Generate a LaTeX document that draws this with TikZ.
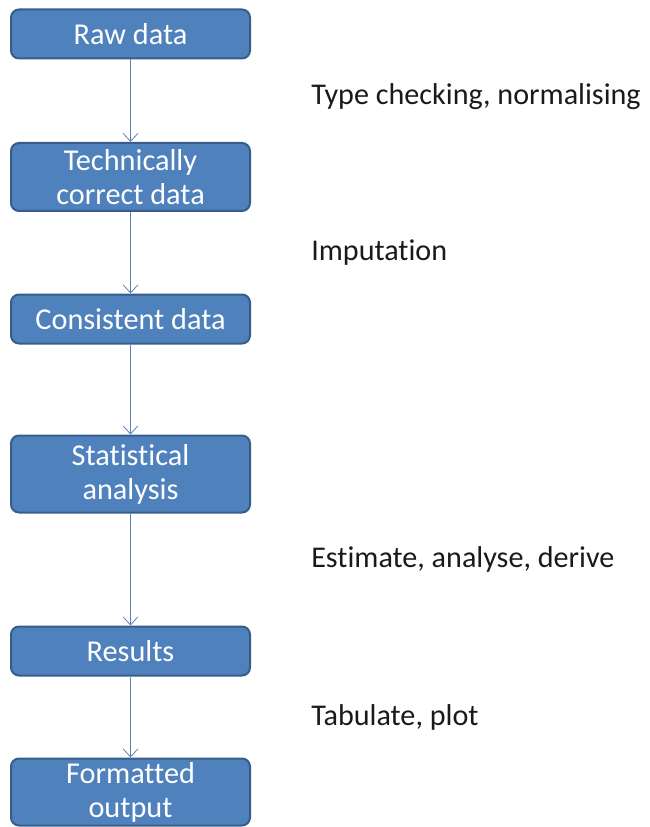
\documentclass[tikz,border=0pt]{standalone}
\usepackage{fontspec}
\setmainfont[Ligatures=NoCommon]{Carlito}
\usetikzlibrary{arrows.meta}
\definecolor{boxfill}{HTML}{4F81BD}
\definecolor{boxline}{HTML}{385D8A}
\definecolor{arrowc}{HTML}{5A82B5}
\definecolor{labelc}{HTML}{1A1A1A}
\begin{document}
\begin{tikzpicture}[x=0.75pt,y=-0.75pt,
  stepbox/.style={draw=boxline, line width=1.5pt, fill=boxfill, rounded corners=6pt,
    minimum width=239*0.75pt, text=white, align=center, inner sep=0pt,
    font=\fontsize{22.7pt}{25.5pt}\selectfont},
  flow/.style={draw=arrowc, line width=0.6pt, -{Straight Barb[length=6pt,width=11pt]}},
  note/.style={anchor=west, text=labelc, inner sep=0pt, font=\fontsize{22.6pt}{26pt}\selectfont}]
\useasboundingbox (0,0) rectangle (649,827);
\node[stepbox, minimum height=49*0.75pt] (raw) at (130.5,34) {Raw data};
\node[stepbox, minimum height=68*0.75pt] (tech) at (130.5,177) {Technically\\correct data};
\node[stepbox, minimum height=49*0.75pt] (cons) at (130.5,319) {Consistent data};
\node[stepbox, minimum height=77*0.75pt] (stat) at (130.5,474) {Statistical\\analysis};
\node[stepbox, minimum height=49*0.75pt] (res) at (130.5,651) {Results};
\node[stepbox, minimum height=67*0.75pt] (fmt) at (130.5,792) {Formatted\\output};
\draw[flow] (raw) -- (tech);
\draw[flow] (tech) -- (cons);
\draw[flow] (cons) -- (stat);
\draw[flow] (stat) -- (res);
\draw[flow] (res) -- (fmt);
\node[note] (n1) at (311,97) {Type checking, normalising};
\node[note] (n2) at (311,253) {Imputation};
\node[note] (n3) at (311,559) {Estimate, analyse, derive};
\node[note] (n4) at (311,717) {Tabulate, plot};
\end{tikzpicture}
\end{document}
